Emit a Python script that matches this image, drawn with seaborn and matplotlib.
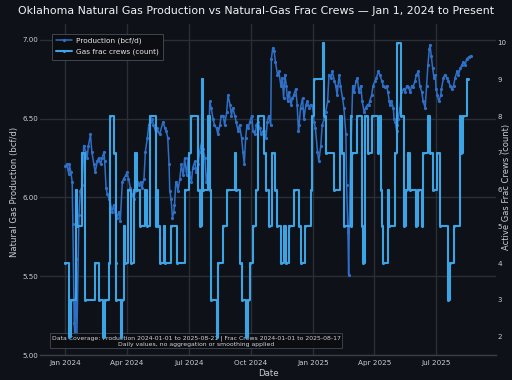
import numpy as np
import pandas as pd
import matplotlib
matplotlib.use("Agg")
import matplotlib.pyplot as plt
import seaborn as sns

# ---- data (days since 2024-01-01) ----
prod_day = [0, 2, 5, 6, 8, 10, 11, 13, 14, 16, 17, 20, 22, 25, 27, 30, 32, 34, 37, 39,
            42, 44, 47, 49, 52, 54, 57, 58, 60, 62, 65, 69, 71, 74, 76, 79, 81, 84, 86, 89,
            91, 93, 96, 98, 101, 103, 106, 108, 111, 113, 116, 118, 121, 123, 125, 128, 130, 133, 135, 139,
            144, 147, 149, 151, 153, 154, 156, 158, 160, 161, 163, 165, 166, 169, 171, 174, 176, 179, 181, 183,
            186, 188, 191, 193, 196, 198, 201, 203, 206, 208, 211, 213, 215, 218, 220, 223, 225, 228, 230, 233,
            235, 238, 240, 243, 245, 247, 250, 252, 255, 257, 260, 262, 264, 266, 268, 270, 272, 275, 277, 280,
            282, 284, 287, 289, 291, 293, 296, 298, 300, 303, 304, 306, 308, 310, 313, 315, 318, 320, 322, 324,
            326, 328, 330, 333, 335, 337, 340, 342, 344, 345, 347, 350, 352, 355, 357, 360, 362, 365, 367, 369,
            372, 374, 377, 379, 382, 384, 387, 389, 392, 394, 397, 399, 401, 404, 406, 409, 411, 414, 415, 417,
            418, 419, 421, 424, 426, 429, 431, 433, 436, 438, 441, 443, 446, 448, 449, 452, 454, 457, 459, 462,
            464, 467, 469, 472, 474, 476, 478, 479, 481, 484, 485, 487, 489, 490, 491, 494, 496, 499, 501, 504,
            506, 509, 511, 513, 516, 518, 521, 523, 526, 528, 531, 533, 535, 537, 538, 540, 542, 544, 546, 547,
            549, 551, 554, 555, 558, 560, 563, 565, 568, 570, 573, 575, 578, 580, 583, 585, 587, 590, 592, 595,
            598]
prod_bcfd = [6.20, 6.21, 6.15, 6.21, 6.16, 6.10, 5.83, 5.20, 5.12, 5.61, 5.13, 5.89, 6.04, 6.08, 6.33, 6.29, 6.25, 6.33, 6.40, 6.29,
             6.21, 6.16, 6.23, 6.25, 6.21, 6.25, 6.29, 6.23, 6.06, 6.02, 5.99, 5.91, 5.95, 5.89, 5.87, 5.91, 5.85, 6.10, 6.12, 6.14,
             6.16, 6.12, 6.06, 6.02, 5.99, 6.04, 6.10, 6.08, 6.10, 6.06, 6.12, 6.29, 6.38, 6.46, 6.48, 6.50, 6.46, 6.42, 6.44, 6.40,
             6.48, 6.44, 6.42, 6.38, 6.21, 6.04, 5.99, 5.87, 5.91, 5.95, 6.10, 6.08, 6.04, 6.12, 6.21, 6.14, 6.25, 6.14, 6.25, 6.16,
             6.10, 6.19, 6.23, 6.16, 6.21, 6.29, 6.35, 6.31, 6.25, 6.10, 6.19, 6.61, 6.57, 6.50, 6.46, 6.44, 6.40, 6.46, 6.52, 6.52,
             6.46, 6.54, 6.65, 6.59, 6.52, 6.57, 6.52, 6.48, 6.42, 6.46, 6.38, 6.29, 6.21, 6.38, 6.46, 6.44, 6.48, 6.52, 6.42, 6.40,
             6.46, 6.48, 6.44, 6.40, 6.42, 6.42, 6.38, 6.48, 6.52, 6.46, 6.88, 6.95, 6.93, 6.86, 6.78, 6.80, 6.71, 6.76, 6.63, 6.78,
             6.71, 6.61, 6.67, 6.59, 6.63, 6.65, 6.69, 6.59, 6.42, 6.46, 6.57, 6.63, 6.50, 6.59, 6.61, 6.57, 6.59, 6.57, 6.48, 6.44,
             6.29, 6.23, 6.33, 6.46, 6.50, 6.54, 6.61, 6.78, 6.76, 6.80, 6.74, 6.71, 6.65, 6.78, 6.71, 6.63, 6.57, 6.40, 6.08, 5.78,
             5.51, 5.83, 6.25, 6.71, 6.67, 6.74, 6.76, 6.67, 6.71, 6.61, 6.54, 6.57, 6.59, 6.59, 6.61, 6.65, 6.71, 6.74, 6.76, 6.80,
             6.78, 6.74, 6.71, 6.70, 6.71, 6.67, 6.61, 6.59, 6.61, 6.57, 6.50, 6.48, 6.42, 6.46, 6.50, 6.57, 6.67, 6.69, 6.67, 6.71,
             6.70, 6.67, 6.71, 6.70, 6.74, 6.78, 6.80, 6.71, 6.67, 6.61, 6.57, 6.71, 6.84, 6.94, 6.97, 6.90, 6.82, 6.76, 6.78, 6.69,
             6.65, 6.61, 6.65, 6.69, 6.76, 6.78, 6.76, 6.74, 6.71, 6.69, 6.71, 6.76, 6.80, 6.78, 6.82, 6.84, 6.86, 6.84, 6.88, 6.89,
             6.90]

crew_day = [0, 5, 8, 16, 17, 24, 29, 44, 49, 56, 58, 64, 66, 71, 74, 75, 82, 84, 86, 88,
            92, 97, 101, 103, 106, 110, 118, 120, 125, 133, 134, 137, 139, 145, 147, 156, 164, 176, 183, 186,
            196, 198, 201, 203, 211, 213, 215, 223, 225, 233, 238, 250, 252, 257, 260, 267, 270, 272, 277, 282,
            284, 293, 296, 300, 305, 310, 313, 318, 322, 325, 330, 337, 345, 347, 354, 362, 364, 367, 380, 382,
            384, 396, 406, 408, 411, 421, 422, 423, 431, 438, 439, 442, 447, 452, 462, 464, 466, 467, 469, 476,
            478, 486, 489, 496, 499, 503, 506, 508, 518, 521, 526, 528, 535, 538, 543, 548, 553, 565, 567, 574,
            582, 584, 587, 592, 594]
crew_count = [4, 2, 3, 6, 5, 7, 3, 4, 3, 2, 3, 4, 8, 7, 4, 3, 2, 3, 5, 4,
              6, 4, 6, 7, 6, 5, 6, 5, 8, 5, 6, 5, 4, 5, 4, 5, 4, 6, 7, 8,
              6, 5, 9, 6, 8, 6, 3, 2, 4, 5, 6, 7, 6, 4, 3, 2, 3, 4, 5, 6,
              8, 7, 6, 5, 7, 6, 5, 4, 5, 4, 5, 6, 5, 4, 5, 6, 8, 9, 10, 8,
              7, 6, 8, 7, 5, 8, 5, 7, 8, 5, 4, 8, 7, 8, 7, 8, 6, 5, 4, 6,
              5, 7, 10, 8, 5, 6, 7, 6, 5, 6, 5, 7, 8, 7, 6, 7, 5, 3, 4, 5,
              8, 7, 8, 9, 9]

left_ticks = [5.0, 5.5, 6.0, 6.5, 7.0]
right_ticks = [2, 3, 4, 5, 6, 7, 8, 9, 10]
x_tick_dates = ["2024-01-01", "2024-04-01", "2024-07-01", "2024-10-01",
                "2025-01-01", "2025-04-01", "2025-07-01"]
x_tick_labels = ["Jan 2024", "Apr 2024", "Jul 2024", "Oct 2024",
                 "Jan 2025", "Apr 2025", "Jul 2025"]

START = pd.Timestamp("2024-01-01")
prod = pd.DataFrame({"date": START + pd.to_timedelta(prod_day, unit="D"),
                     "value": prod_bcfd})
crews = pd.DataFrame({"date": START + pd.to_timedelta(crew_day, unit="D"),
                      "value": crew_count})

sns.set_theme(style="dark")
plt.rcParams["font.family"] = ["DejaVu Sans"]

BG = "#0e1117"
GRID = "#2a2e37"
TXT = "#c9cdd4"
PROD_C = "#2f6fc6"
CREW_C = "#3ca3e4"
W, H = 512, 380

fig = plt.figure(figsize=(W / 100, H / 100), dpi=100, facecolor=BG)
ax = fig.add_axes([40 / W, 25 / H, 456 / W, 330.75 / H])
ax.set_facecolor(BG)
ax2 = ax.twinx()

sns.lineplot(data=prod, x="date", y="value", ax=ax, color=PROD_C, linewidth=1.1,
             marker="o", markersize=2.3, markeredgewidth=0, legend=False,
             label="Production (bcf/d)")
sns.lineplot(data=crews, x="date", y="value", ax=ax2, color=CREW_C, linewidth=1.5,
             drawstyle="steps-post", marker="o", markersize=2.2, markeredgewidth=0,
             legend=False, label="Gas frac crews (count)")

ax.set_xlim(START + pd.Timedelta(days=-37.5), START + pd.Timedelta(days=635.5))
ax.set_ylim(5.0, 7.1)
ax2.set_ylim(1.5, 10.5)

ax.set_yticks(left_ticks)
ax.set_yticklabels([f"{v:.2f}" for v in left_ticks])
ax2.set_yticks(right_ticks)
ax2.set_yticklabels([str(v) for v in right_ticks])
ax.set_xticks(pd.to_datetime(x_tick_dates))
ax.set_xticklabels(x_tick_labels)

ax.grid(True, color=GRID, linewidth=1.0)
ax2.grid(False)
for a in (ax, ax2):
    for s in a.spines.values():
        s.set_visible(False)
ax.spines["bottom"].set_visible(True)
ax.spines["bottom"].set_color("#3a3e47")
ax.spines["bottom"].set_linewidth(1.0)

ax.tick_params(axis="y", length=0, pad=1.5, labelsize=5.1, labelcolor=TXT)
ax.tick_params(axis="x", length=0, pad=3.5, labelsize=5.2, labelcolor=TXT)
ax2.tick_params(axis="y", length=0, pad=1.0, labelsize=5.1, labelcolor=TXT)

ax.set_xlabel("Date", fontsize=6.2, color=TXT)
ax.xaxis.set_label_coords(0.5, (355 - 374) / 330.75)
ax.xaxis.label.set_verticalalignment("center")
ax.set_ylabel("Natural Gas Production (bcf/d)", fontsize=6.1, color=TXT)
ax.yaxis.set_label_coords((15 - 40) / 456, (355 - 192) / 330.75)
ax.yaxis.label.set_verticalalignment("center")
ax2.set_ylabel("Active Gas Frac Crews (count)", fontsize=6.0, color=TXT, rotation=90)
ax2.yaxis.set_label_coords((507 - 40) / 456, (355 - 187) / 330.75)
ax2.yaxis.label.set_verticalalignment("center")

fig.text(0.5, 1 - 11 / H,
         "Oklahoma Natural Gas Production vs Natural-Gas Frac Crews \u2014 Jan 1, 2024 to Present",
         ha="center", va="center", fontsize=7.9, color="#f2f3f5")

handles = [ax.get_lines()[0], ax2.get_lines()[0]]
leg = fig.legend(handles=handles, labels=["Production (bcf/d)", "Gas frac crews (count)"],
                 loc="upper left", bbox_to_anchor=(48 / W, 1 - 30 / H),
                 fontsize=5.3, frameon=True, facecolor="#0b0d11", edgecolor="#4a4f58",
                 labelcolor="#e6e8eb", handlelength=2.2, handletextpad=0.5,
                 borderpad=0.55, labelspacing=0.6, fancybox=False, framealpha=1.0)
leg.get_frame().set_linewidth(0.6)

ax.text((196 - 40) / 456, (355 - 341) / 330.75,
        "Data Coverage: Production 2024-01-01 to 2025-08-21 | Frac Crews 2024-01-01 to 2025-08-17\n"
        "Daily values, no aggregation or smoothing applied",
        transform=ax.transAxes, ha="center", va="center", fontsize=4.45, color="#d0d3d8",
        linespacing=1.25, zorder=10,
        bbox=dict(boxstyle="square,pad=0.25", facecolor="#0b0d11", edgecolor="#4a4f58",
                  linewidth=0.6, alpha=0.9))

fig.savefig("out.png", dpi=100, facecolor=BG)
